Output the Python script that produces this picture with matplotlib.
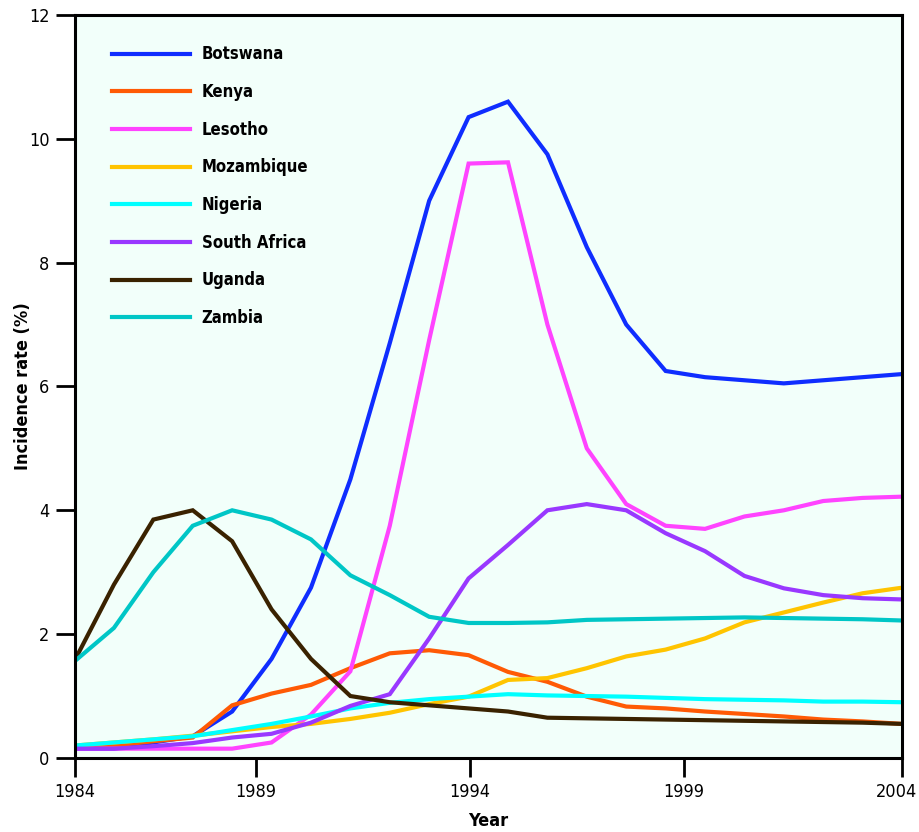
import matplotlib
matplotlib.use('Agg')
import matplotlib.pyplot as plt
import matplotlib.transforms as mtransforms
import numpy as np

# 22 yearly samples, 1984 .. 2004 axis
labels = ['Botswana', 'Kenya', 'Lesotho', 'Mozambique', 'Nigeria',
          'South Africa', 'Uganda', 'Zambia']
colors = ['#0f2dff', '#ff5a05', '#ff44ff', '#ffc400', '#00ffff',
          '#9938ff', '#3a2200', '#00c6c6']

botswana = [0.15, 0.15, 0.25, 0.35, 0.75, 1.6, 2.75, 4.5, 6.7, 9.0, 10.35,
            10.6, 9.75, 8.25, 7.0, 6.25, 6.15, 6.1, 6.05, 6.1, 6.15, 6.2]
kenya = [0.15, 0.2, 0.27, 0.33, 0.85, 1.04, 1.18, 1.45, 1.69, 1.74, 1.66,
         1.39, 1.23, 0.99, 0.83, 0.8, 0.75, 0.71, 0.67, 0.62, 0.59, 0.55]
lesotho = [0.15, 0.15, 0.15, 0.15, 0.15, 0.25, 0.7, 1.4, 3.75, 6.75, 9.6,
           9.62, 7.0, 5.0, 4.1, 3.75, 3.7, 3.9, 4.0, 4.15, 4.2, 4.22]
mozambique = [0.2, 0.25, 0.3, 0.36, 0.43, 0.5, 0.55, 0.63, 0.73, 0.87, 0.99,
              1.26, 1.29, 1.45, 1.64, 1.75, 1.93, 2.19, 2.35, 2.51, 2.66, 2.75]
nigeria = [0.2, 0.25, 0.3, 0.35, 0.45, 0.55, 0.67, 0.8, 0.89, 0.95, 0.99,
           1.03, 1.01, 1.0, 0.99, 0.97, 0.95, 0.94, 0.93, 0.91, 0.91, 0.9]
south_africa = [0.15, 0.15, 0.19, 0.24, 0.33, 0.39, 0.57, 0.84, 1.03, 1.93, 2.9,
                3.44, 4.0, 4.1, 4.0, 3.63, 3.34, 2.94, 2.74, 2.63, 2.58, 2.56]
uganda = [1.57, 2.8, 3.85, 4.0, 3.5, 2.4, 1.6, 1.0, 0.9, 0.85, 0.8,
          0.75, 0.65, 0.64, 0.63, 0.62, 0.61, 0.6, 0.59, 0.58, 0.57, 0.55]
zambia = [1.56, 2.1, 3.0, 3.75, 4.0, 3.85, 3.53, 2.95, 2.63, 2.28, 2.18,
          2.18, 2.19, 2.23, 2.24, 2.25, 2.26, 2.27, 2.26, 2.25, 2.24, 2.22]

year_ticks = [0, 4.6, 10.03, 15.46, 21]
year_labels = ['1984', '1989', '1994', '1999', '2004']
y_ticks = [0, 2, 4, 6, 8, 10, 12]

series = [botswana, kenya, lesotho, mozambique, nigeria, south_africa, uganda, zambia]

plt.rcParams['font.family'] = ['DejaVu Sans']
plt.rcParams['font.stretch'] = 'condensed'

fig = plt.figure(figsize=(9.2, 8.32), dpi=100)
ax = fig.add_axes([0.081, 0.089, 0.8995, 0.893])
ax.set_facecolor('#f2fffa')

x = np.arange(len(botswana))
for vals, lab, c in zip(series, labels, colors):
    ax.plot(x, vals, color=c, lw=3.0, label=lab, solid_joinstyle='miter')

ax.set_xlim(0, 21)
ax.set_ylim(0, 12)
ax.set_xticks(year_ticks)
ax.set_xticklabels(year_labels)
ax.set_yticks(y_ticks)
ax.tick_params(direction='out', length=14, width=2, labelsize=13, pad=4)
for s in ax.spines.values():
    s.set_linewidth(2.2)

# nudge the last year label so it stays inside the figure
last = ax.get_xticklabels()[-1]
last.set_transform(last.get_transform() +
                   mtransforms.ScaledTranslation(-4 / 72, 0, fig.dpi_scale_trans))

ax.set_xlabel('Year', fontsize=13, fontweight='bold', labelpad=8)
ax.set_ylabel('Incidence rate (%)', fontsize=13, fontweight='bold', labelpad=-2)

leg = ax.legend(loc='upper left', bbox_to_anchor=(0.045, 0.959), frameon=False,
                fontsize=12, handlelength=4.7, handletextpad=0.7,
                labelspacing=1.18, borderpad=0, borderaxespad=0)
for t in leg.get_texts():
    t.set_fontweight('bold')

fig.savefig('out.png', dpi=100)
